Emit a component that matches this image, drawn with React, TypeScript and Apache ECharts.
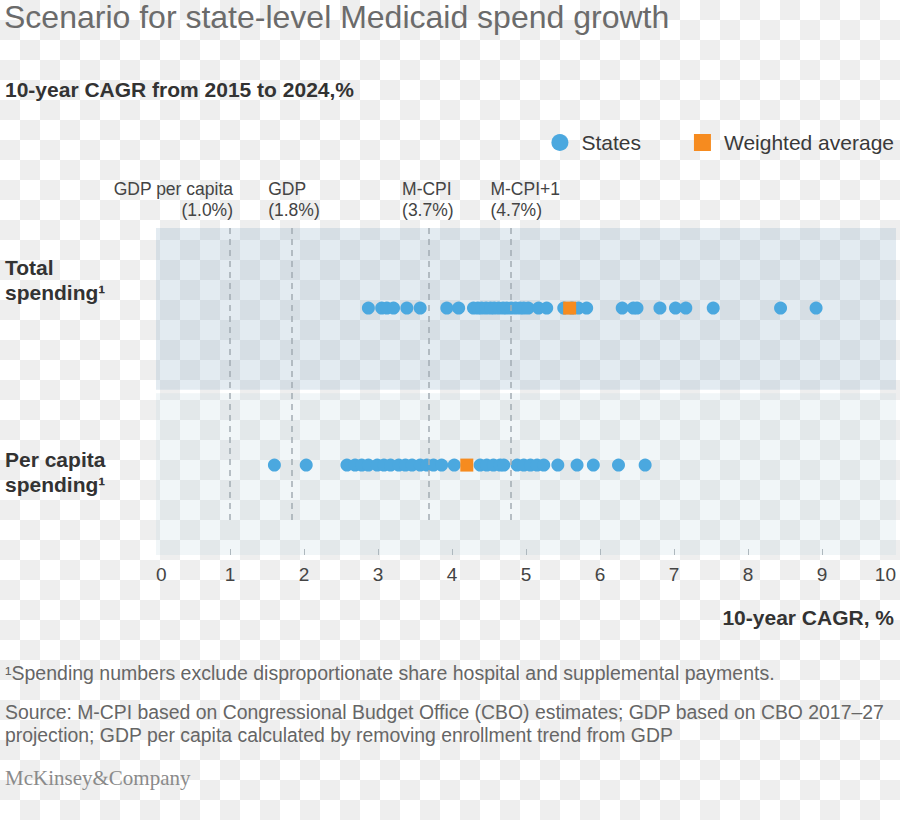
import React, { useEffect, useRef } from 'react';
import * as echarts from 'echarts';

const TITLE = 'Scenario for state-level Medicaid spend growth';
const SUBTITLE = '10-year CAGR from 2015 to 2024,%';
const AXIS_NAME = '10-year CAGR, %';
const ROW_LABELS = ['Total\nspending¹', 'Per capita\nspending¹'];
const SERIES_NAMES = ['States', 'Weighted average'];

// 10-year CAGR (%) of each state
const TOTAL_STATES = [
  2.87, 3.05, 3.12, 3.21, 3.39, 3.57, 3.93, 4.09,
  4.29, 4.35, 4.40, 4.46, 4.52, 4.57, 4.63, 4.69, 4.74, 4.80, 4.86, 4.92, 4.97, 5.03,
  5.17, 5.28, 5.51, 5.62, 5.71, 5.82,
  6.30, 6.45, 6.50, 6.81, 7.02, 7.16, 7.53, 8.44, 8.92,
];
const PER_CAPITA_STATES = [
  1.60, 2.03,
  2.58, 2.69, 2.78, 2.87, 2.99, 3.08, 3.17, 3.28, 3.37, 3.46, 3.57, 3.66, 3.75, 3.86, 4.03,
  4.38, 4.47, 4.56, 4.65, 4.70,
  4.88, 4.97, 5.06, 5.15, 5.24,
  5.43, 5.69, 5.91, 6.25, 6.61,
];
// weighted averages: [total, per capita]
const WEIGHTED_AVERAGE = [5.59, 4.2];

const BENCHMARK_NAMES = ['GDP per capita', 'GDP', 'M-CPI', 'M-CPI+1'];
const BENCHMARK_LABELS = ['(1.0%)', '(1.8%)', '(3.7%)', '(4.7%)'];
const BENCHMARK_VALUES = [1.0, 1.84, 3.69, 4.79];

const X_TICKS = [1, 2, 3, 4, 5, 6, 7, 8, 9];

const FOOTNOTE = '¹Spending numbers exclude disproportionate share hospital and supplemental payments.';
const SOURCE = 'Source: M-CPI based on Congressional Budget Office (CBO) estimates; GDP based on CBO 2017–27\nprojection; GDP per capita calculated by removing enrollment trend from GDP';
const BRAND = 'McKinsey&Company';

// layout (y axis is an abstract 0–100 scale spanning the plot height)
const ROW_Y = [75.5, 27.5];
const BAND_TOTAL = [50.5, 100];
const BAND_PC = [0, 49.5];
const LINE_Y = [10.7, 100];

const FONT = '"Liberation Sans", Arial, Helvetica, sans-serif';
const BLUE = '#4BA8DF';
const ORANGE = '#F68B1F';

export default function App() {
  const ref = useRef<HTMLDivElement>(null);

  useEffect(() => {
    if (!ref.current) return;
    const chart = echarts.init(ref.current, undefined, { renderer: 'svg' });

    const statesData = [
      ...TOTAL_STATES.map((v) => [v, ROW_Y[0]]),
      ...PER_CAPITA_STATES.map((v) => [v, ROW_Y[1]]),
    ];
    const avgData = WEIGHTED_AVERAGE.map((v, i) => [v, ROW_Y[i]]);

    chart.setOption({
      animation: false,
      backgroundColor: 'transparent',
      textStyle: { fontFamily: FONT },
      title: {
        text: TITLE,
        left: 4,
        top: 1,
        padding: 0,
        textStyle: { fontSize: 32, lineHeight: 32, fontWeight: 'normal', color: '#6b6b6b', fontFamily: FONT },
      },
      legend: {
        right: 1,
        top: 127,
        itemWidth: 17,
        itemHeight: 17,
        itemGap: 53,
        textStyle: { fontSize: 21, color: '#3a3a3a', fontFamily: FONT, padding: [0, 0, 0, 8] },
        data: [
          { name: SERIES_NAMES[0], icon: 'circle' },
          { name: SERIES_NAMES[1], icon: 'rect' },
        ],
      },
      grid: { left: 156, right: 4, top: 228, bottom: 265 },
      xAxis: {
        type: 'value',
        min: 0,
        max: 10,
        interval: 1,
        splitLine: { show: false },
        axisLine: { show: false },
        axisTick: {
          show: true,
          inside: true,
          length: 6,
          customValues: X_TICKS,
          lineStyle: { color: '#a9b0b5', width: 1 },
        },
        axisLabel: {
          fontSize: 19,
          color: '#444',
          margin: 10,
          fontFamily: FONT,
          alignMinLabel: 'left',
          alignMaxLabel: 'right',
        },
      },
      yAxis: { type: 'value', min: 0, max: 100, show: false },
      series: [
        {
          name: SERIES_NAMES[0],
          type: 'scatter',
          symbol: 'circle',
          symbolSize: 13,
          itemStyle: { color: BLUE, opacity: 1 },
          data: statesData,
          z: 3,
          markArea: {
            silent: true,
            data: [
              [
                { yAxis: BAND_TOTAL[0], itemStyle: { color: 'rgba(140,172,195,0.24)' } },
                { yAxis: BAND_TOTAL[1] },
              ],
              [
                { yAxis: BAND_PC[0], itemStyle: { color: 'rgba(190,212,225,0.22)' } },
                { yAxis: BAND_PC[1] },
              ],
            ],
          },
          markLine: {
            silent: true,
            symbol: ['none', 'none'],
            label: { show: false },
            lineStyle: { type: [6, 5], color: '#a3acb2', width: 1.5 },
            data: BENCHMARK_VALUES.map((v) => [
              { coord: [v, LINE_Y[0]] },
              { coord: [v, LINE_Y[1]] },
            ]),
          },
        },
        {
          name: SERIES_NAMES[1],
          type: 'scatter',
          symbol: 'rect',
          symbolSize: 13,
          itemStyle: { color: ORANGE, opacity: 1 },
          data: avgData,
          z: 5,
        },
      ],
    });

    const px = (v: number) => chart.convertToPixel({ gridIndex: 0 }, [v, 0])[0] as number;
    const benchOffsets = [3, -24, -27, -20];

    const graphics: any[] = [
      {
        type: 'text',
        x: 5,
        y: 89,
        style: { text: SUBTITLE, font: `bold 21px ${FONT}`, fill: '#333', align: 'left', verticalAlign: 'middle' },
      },
      {
        type: 'text',
        x: 5,
        y: 255,
        style: { text: ROW_LABELS[0], font: `bold 21px ${FONT}`, lineHeight: 25, fill: '#333', align: 'left', verticalAlign: 'top' },
      },
      {
        type: 'text',
        x: 5,
        y: 447,
        style: { text: ROW_LABELS[1], font: `bold 21px ${FONT}`, lineHeight: 25, fill: '#333', align: 'left', verticalAlign: 'top' },
      },
      ...BENCHMARK_VALUES.map((v, i) => ({
        type: 'text',
        x: px(v) + benchOffsets[i],
        y: 178,
        style: {
          text: BENCHMARK_NAMES[i] + '\n' + BENCHMARK_LABELS[i],
          font: `17.5px ${FONT}`,
          lineHeight: 21,
          fill: '#444',
          align: i === 0 ? 'right' : 'left',
          verticalAlign: 'top',
        },
      })),
      {
        type: 'text',
        x: 894,
        y: 617,
        style: { text: AXIS_NAME, font: `bold 21px ${FONT}`, fill: '#333', align: 'right', verticalAlign: 'middle' },
      },
      {
        type: 'text',
        x: 5,
        y: 673,
        style: { text: FOOTNOTE, font: `19.5px ${FONT}`, fill: '#666', align: 'left', verticalAlign: 'middle' },
      },
      {
        type: 'text',
        x: 5,
        y: 700,
        style: { text: SOURCE, font: `19.4px ${FONT}`, lineHeight: 23, fill: '#666', align: 'left', verticalAlign: 'top' },
      },
      {
        type: 'text',
        x: 5,
        y: 778,
        style: { text: BRAND, font: `21px "Liberation Serif", "Times New Roman", serif`, fill: '#8a8a8a', align: 'left', verticalAlign: 'middle' },
      },
    ];
    chart.setOption({ graphic: graphics });

    return () => chart.dispose();
  }, []);

  return (
    <div
      style={{
        position: 'fixed',
        left: 0,
        top: 0,
        width: 900,
        height: 820,
        backgroundColor: '#ffffff',
        backgroundImage: 'conic-gradient(#eeeeee 0 25%, #ffffff 0 50%, #eeeeee 0 75%, #ffffff 0)',
        backgroundSize: '40px 40px',
      }}
    >
      <div ref={ref} style={{ width: 900, height: 820 }} />
    </div>
  );
}
